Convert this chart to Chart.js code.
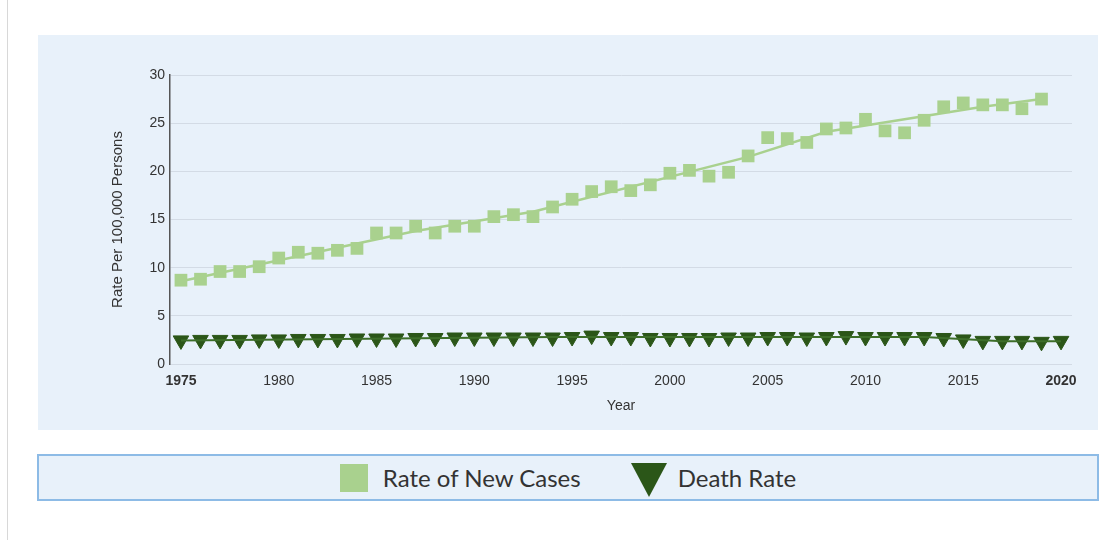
<!DOCTYPE html>
<html>
<head>
<meta charset="utf-8">
<script src="https://cdn.jsdelivr.net/npm/chart.js@4"></script>
<style>
  body { margin: 0; background: #fff; width: 1120px; height: 548px; position: relative; overflow: hidden; font-family: "Liberation Sans", Arial, sans-serif; }
  #edge { position: absolute; left: 7px; top: 0; width: 1px; height: 540px; background: #d8d8d8; }
  #panel { position: absolute; left: 38px; top: 35px; width: 1060px; height: 395px; background: #e8f1fa; }
  #legendBox { position: absolute; left: 37px; top: 454px; width: 1058px; height: 43px; background: #e8f1fa; border: 2px solid #8dbbe6;
    display: flex; align-items: center; justify-content: center; font-family: Lato, "Open Sans", sans-serif; font-size: 24px; color: #333; }
  .item { display: flex; align-items: center; }
  .item + .item { margin-left: 50px; }
  .sq { width: 28px; height: 28px; margin-right: 15px; }
  .tri { width: 0; height: 0; border-left: 18px solid transparent; border-right: 18px solid transparent; margin-right: 11px; margin-top: 4px; }
</style>
</head>
<body>
<div id="edge"></div>
<div id="panel"><canvas id="chart" width="1060" height="395"></canvas></div>
<div id="legendBox"></div>
<script>
// años y tasas
const years = [];
for (let y = 1975; y <= 2020; y++) years.push(y);

const newCases = [8.7, 8.8, 9.6, 9.6, 10.1, 11.0, 11.6, 11.5, 11.8, 12.0,
  13.6, 13.6, 14.3, 13.6, 14.3, 14.3, 15.3, 15.5, 15.3, 16.3,
  17.1, 17.9, 18.4, 18.0, 18.6, 19.8, 20.1, 19.5, 19.9, 21.6,
  23.5, 23.4, 23.0, 24.4, 24.5, 25.4, 24.2, 24.0, 25.3, 26.7,
  27.1, 26.9, 26.9, 26.5, 27.5];

const deathRate = [2.45, 2.5, 2.5, 2.5, 2.55, 2.55, 2.6, 2.6, 2.6, 2.65,
  2.65, 2.65, 2.7, 2.7, 2.75, 2.75, 2.75, 2.75, 2.75, 2.75,
  2.8, 2.95, 2.8, 2.8, 2.7, 2.7, 2.7, 2.7, 2.75, 2.75,
  2.8, 2.8, 2.75, 2.8, 2.9, 2.8, 2.8, 2.8, 2.8, 2.7,
  2.55, 2.4, 2.4, 2.4, 2.3, 2.4];

// tendencias (puntos de unión)
const newTrendYears = [1975, 1987, 1993, 2004, 2008, 2016, 2019];
const newTrendVals = [8.6, 13.8, 15.8, 21.5, 24.1, 26.7, 27.5];
const deathTrendYears = [1975, 1994, 2013, 2017, 2020];
const deathTrendVals = [2.45, 2.8, 2.8, 2.35, 2.35];

const xTicks = [1975, 1980, 1985, 1990, 1995, 2000, 2005, 2010, 2015, 2020];
const yTicks = [0, 5, 10, 15, 20, 25, 30];

const lightGreen = '#a9d18e';
const darkGreen = '#2b5618';

const pts = (xs, vs) => vs.map((v, i) => ({ x: xs[i], y: v }));

const ctx = document.getElementById('chart').getContext('2d');
new Chart(ctx, {
  type: 'scatter',
  data: {
    datasets: [
      { label: 'Death Rate trend', data: pts(deathTrendYears, deathTrendVals), showLine: true,
        borderColor: '#3d6e29', borderWidth: 2, pointRadius: 0, order: 0 },
      { label: 'Death Rate', data: pts(years, deathRate), pointStyle: 'triangle', rotation: 180,
        pointRadius: 9, backgroundColor: darkGreen, borderColor: darkGreen, borderWidth: 1, order: 1 },
      { label: 'Rate of New Cases', data: pts(years, newCases), pointStyle: 'rect',
        pointRadius: 9, backgroundColor: lightGreen, borderColor: lightGreen, borderWidth: 0, order: 2 },
      { label: 'New trend', data: pts(newTrendYears, newTrendVals), showLine: true,
        borderColor: lightGreen, borderWidth: 2.5, pointRadius: 0, order: 3 }
    ]
  },
  options: {
    responsive: false,
    animation: false,
    layout: { padding: { left: 0, top: 40, right: 26, bottom: 0 } },
    plugins: { legend: { display: false }, tooltip: { enabled: false } },
    scales: {
      x: {
        type: 'linear', min: 1974.44, max: 2020.56,
        afterBuildTicks: s => { s.ticks = xTicks.map(v => ({ value: v })); },
        afterFit: s => { s.height = 66; },
        grid: { display: false },
        border: { display: false },
        ticks: {
          color: '#333', padding: 1, maxRotation: 0, autoSkip: false,
          callback: v => String(v),
          font: c => ({ family: 'Liberation Sans', size: 14,
            weight: (c.tick && (c.tick.value === 1975 || c.tick.value === 2020)) ? 'bold' : 'normal' })
        },
        title: { display: true, text: 'Year', color: '#333', padding: { bottom: 15 },
          font: { family: 'Liberation Sans', size: 14 } }
      },
      y: {
        min: 0, max: 30,
        afterBuildTicks: s => { s.ticks = yTicks.map(v => ({ value: v })); },
        afterFit: s => { s.width = 132; },
        grid: { color: '#d3dbe5', lineWidth: 1, drawTicks: false },
        border: { display: true, color: '#555', width: 1.5 },
        ticks: { color: '#333', padding: 5, font: { family: 'Liberation Sans', size: 14 } },
        title: { display: true, text: 'Rate Per 100,000 Persons', color: '#333', padding: { top: 71 },
          font: { family: 'Liberation Sans', size: 15 } }
      }
    }
  }
});

// leyenda en caja aparte
const legendBox = document.getElementById('legendBox');
legendBox.innerHTML = `
  <div class="item"><div class="sq" style="background:${lightGreen}"></div>Rate of New Cases</div>
  <div class="item"><div class="tri" style="border-top:34px solid ${darkGreen}"></div>Death Rate</div>
`;
</script>
</body>
</html>
